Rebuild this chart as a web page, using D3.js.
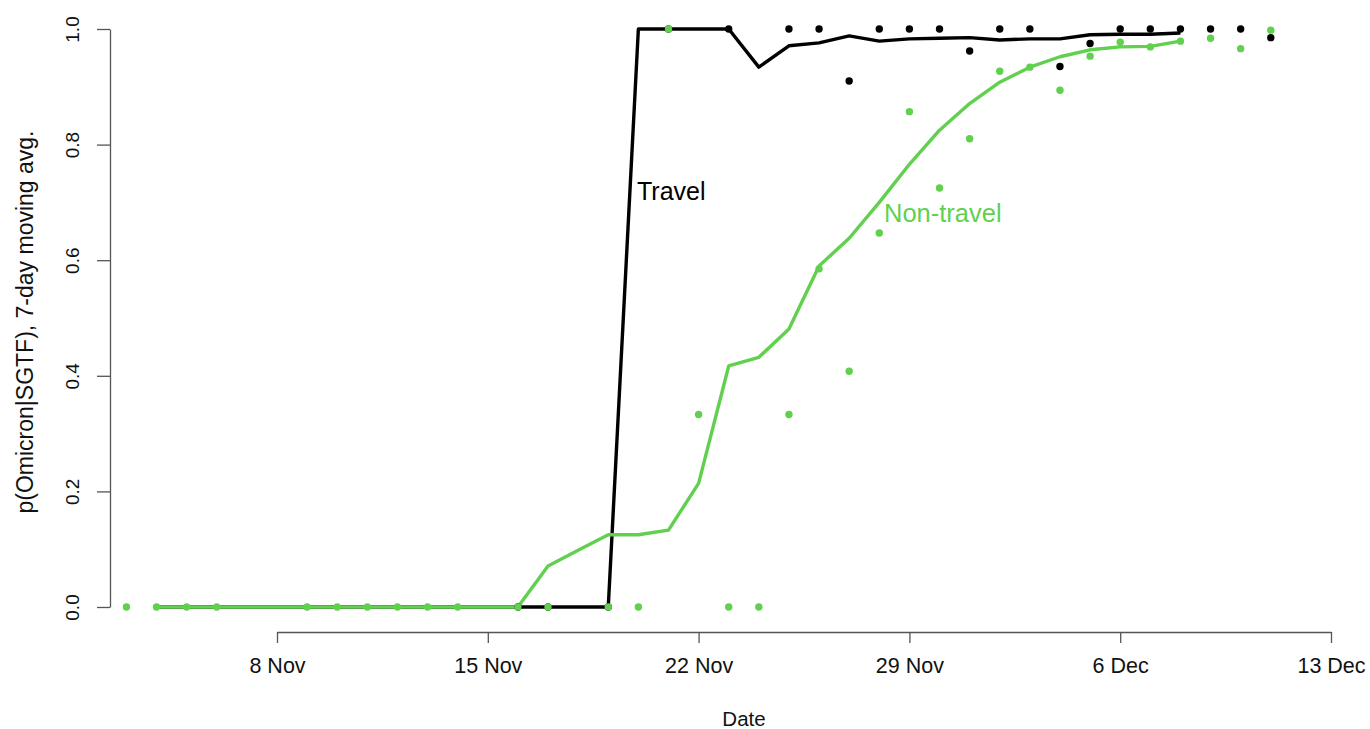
<!DOCTYPE html>
<html>
<head>
<meta charset="utf-8">
<script src="https://cdn.jsdelivr.net/npm/d3@7"></script>
<style>
  html, body { margin: 0; padding: 0; background: #fff; }
  svg { display: block; font-family: "Liberation Sans", Arial, Helvetica, sans-serif; }
</style>
</head>
<body>
<svg id="chart" width="1370" height="729"></svg>
<script>
// ---- data ----
const travelLineDates = ["2021-11-04","2021-11-05","2021-11-06","2021-11-07","2021-11-08","2021-11-09","2021-11-10","2021-11-11","2021-11-12","2021-11-13","2021-11-14","2021-11-15","2021-11-16","2021-11-17","2021-11-18","2021-11-19","2021-11-20","2021-11-21","2021-11-22","2021-11-23","2021-11-24","2021-11-25","2021-11-26","2021-11-27","2021-11-28","2021-11-29","2021-11-30","2021-12-01","2021-12-02","2021-12-03","2021-12-04","2021-12-05","2021-12-06","2021-12-07","2021-12-08"];
const travelLineValues = [0,0,0,0,0,0,0,0,0,0,0,0,0,0,0,0,1,1,1,1,0.934,0.971,0.976,0.988,0.979,0.983,0.984,0.985,0.981,0.983,0.983,0.990,0.991,0.991,0.993];

const nonTravelLineDates = travelLineDates;
const nonTravelLineValues = [0,0,0,0,0,0,0,0,0,0,0,0,0,0.071,0.098,0.125,0.125,0.133,0.214,0.417,0.432,0.481,0.590,0.638,0.700,0.766,0.825,0.871,0.908,0.934,0.952,0.964,0.969,0.970,0.979];

const travelPointDates = ["2021-11-16","2021-11-17","2021-11-19","2021-11-21","2021-11-23","2021-11-25","2021-11-26","2021-11-27","2021-11-28","2021-11-29","2021-11-30","2021-12-01","2021-12-02","2021-12-03","2021-12-04","2021-12-05","2021-12-06","2021-12-07","2021-12-08","2021-12-09","2021-12-10","2021-12-11"];
const travelPointValues = [0,0,0,1,1,1,1,0.910,1,1,1,0.962,1,1,0.935,0.975,1,1,1,1,1,0.985];

const nonTravelPointDates = ["2021-11-03","2021-11-04","2021-11-05","2021-11-06","2021-11-09","2021-11-10","2021-11-11","2021-11-12","2021-11-13","2021-11-14","2021-11-16","2021-11-17","2021-11-19","2021-11-20","2021-11-21","2021-11-22","2021-11-23","2021-11-24","2021-11-25","2021-11-26","2021-11-27","2021-11-28","2021-11-29","2021-11-30","2021-12-01","2021-12-02","2021-12-03","2021-12-04","2021-12-05","2021-12-06","2021-12-07","2021-12-08","2021-12-09","2021-12-10","2021-12-11"];
const nonTravelPointValues = [0,0,0,0,0,0,0,0,0,0,0,0,0,0,1,0.333,0,0,0.333,0.585,0.408,0.647,0.857,0.725,0.810,0.927,0.934,0.894,0.953,0.977,0.969,0.979,0.984,0.966,0.998];

const xTickDates = ["2021-11-08","2021-11-15","2021-11-22","2021-11-29","2021-12-06","2021-12-13"];
const xTickLabels = ["8 Nov","15 Nov","22 Nov","29 Nov","6 Dec","13 Dec"];
const yTicks = [0, 0.2, 0.4, 0.6, 0.8, 1.0];

const xTitle = "Date";
const yTitle = "p(Omicron|SGTF), 7-day moving avg.";
const travelLabel = "Travel";
const nonTravelLabel = "Non-travel";

// ---- setup ----
const parse = d3.utcParse("%Y-%m-%d");
const GREEN = "#61D04F";
const svg = d3.select("#chart");

const x = d3.scaleUtc()
  .domain([parse("2021-11-08"), parse("2021-12-13")])
  .range([277, 1331]);
const y = d3.scaleLinear().domain([0, 1]).range([607, 29]);

const zip = (ds, vs) => ds.map((d, i) => ({ date: parse(d), v: vs[i] }));
const travelLine = zip(travelLineDates, travelLineValues);
const nonTravelLine = zip(nonTravelLineDates, nonTravelLineValues);
const travelPts = zip(travelPointDates, travelPointValues);
const nonTravelPts = zip(nonTravelPointDates, nonTravelPointValues);

// ---- axes ----
const xAxis = d3.axisBottom(x)
  .tickValues(xTickDates.map(parse))
  .tickFormat((d, i) => xTickLabels[i])
  .tickSize(11).tickPadding(15).tickSizeOuter(0);
const gx = svg.append("g").attr("transform", "translate(0,632)").call(xAxis);
gx.select(".domain").attr("stroke", "#555").attr("stroke-width", 1.3);
gx.selectAll(".tick line").attr("stroke", "#555").attr("stroke-width", 1.3);
gx.selectAll(".tick text").attr("font-size", 21.5).attr("fill", "#111")
  .attr("font-family", "Liberation Sans, Arial, sans-serif");

const yAxis = d3.axisLeft(y).tickValues(yTicks).tickFormat(d3.format(".1f"))
  .tickSize(13).tickSizeOuter(0);
const gy = svg.append("g").attr("transform", "translate(110,0)").call(yAxis);
gy.select(".domain").attr("stroke", "#555").attr("stroke-width", 1.3);
gy.selectAll(".tick line").attr("stroke", "#555").attr("stroke-width", 1.3);
gy.selectAll(".tick text")
  .attr("font-size", 19).attr("fill", "#111")
  .attr("font-family", "Liberation Sans, Arial, sans-serif")
  .attr("x", null).attr("dy", null)
  .attr("text-anchor", "middle")
  .attr("transform", "translate(-38,0) rotate(-90)")
  .attr("y", 0).attr("dy", "0.35em");

// ---- titles ----
svg.append("text").attr("x", 744).attr("y", 726)
  .attr("text-anchor", "middle").attr("font-size", 20.5).attr("fill", "#111")
  .text(xTitle);
svg.append("text")
  .attr("transform", "translate(33,322) rotate(-90)")
  .attr("text-anchor", "middle").attr("font-size", 23).attr("fill", "#111")
  .text(yTitle);

// ---- lines ----
const line = d3.line().x(d => x(d.date)).y(d => y(d.v));
svg.append("path").datum(travelLine).attr("d", line)
  .attr("fill", "none").attr("stroke", "#000").attr("stroke-width", 3.4)
  .attr("stroke-linejoin", "round");
svg.append("path").datum(nonTravelLine).attr("d", line)
  .attr("fill", "none").attr("stroke", GREEN).attr("stroke-width", 3.4)
  .attr("stroke-linejoin", "round");

// ---- points ----
svg.append("g").selectAll("circle").data(travelPts).join("circle")
  .attr("cx", d => x(d.date)).attr("cy", d => y(d.v)).attr("r", 3.7)
  .attr("fill", "#000");
svg.append("g").selectAll("circle").data(nonTravelPts).join("circle")
  .attr("cx", d => x(d.date)).attr("cy", d => y(d.v)).attr("r", 3.7)
  .attr("fill", GREEN);

// ---- labels ----
svg.append("text").attr("x", 637).attr("y", 200)
  .attr("font-size", 25).attr("fill", "#000").text(travelLabel);
svg.append("text").attr("x", 884).attr("y", 222)
  .attr("font-size", 25.5).attr("fill", GREEN).text(nonTravelLabel);
</script>
</body>
</html>
